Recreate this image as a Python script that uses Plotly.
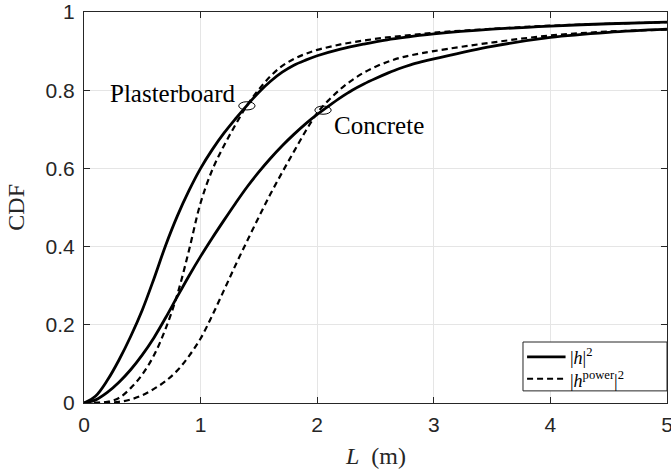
import plotly.graph_objects as go

# ---- data ----
L_plaster_solid = [0, 0.1, 0.2, 0.3, 0.4, 0.5, 0.6, 0.7, 0.8, 0.9, 1.0, 1.1, 1.2, 1.3, 1.4, 1.5, 1.6, 1.7, 1.8, 1.9, 2.0, 2.2, 2.4, 2.6, 2.8, 3.0, 3.5, 4.0, 4.5, 5.0]
cdf_plaster_solid = [0, 0.018, 0.058, 0.11, 0.17, 0.238, 0.318, 0.403, 0.478, 0.543, 0.6, 0.648, 0.69, 0.727, 0.762, 0.795, 0.823, 0.846, 0.864, 0.877, 0.888, 0.905, 0.918, 0.929, 0.937, 0.944, 0.956, 0.964, 0.97, 0.974]

L_plaster_dash = [0, 0.1, 0.2, 0.3, 0.4, 0.5, 0.6, 0.7, 0.8, 0.9, 1.0, 1.1, 1.2, 1.3, 1.4, 1.5, 1.6, 1.7, 1.8, 1.9, 2.0, 2.2, 2.4, 2.6, 2.8, 3.0, 3.5, 4.0, 4.5, 5.0]
cdf_plaster_dash = [0, 0.0005, 0.003, 0.013, 0.038, 0.073, 0.122, 0.19, 0.277, 0.39, 0.512, 0.596, 0.658, 0.712, 0.762, 0.802, 0.836, 0.862, 0.88, 0.893, 0.903, 0.917, 0.927, 0.935, 0.941, 0.947, 0.957, 0.965, 0.97, 0.974]

L_concrete_solid = [0, 0.1, 0.2, 0.3, 0.4, 0.5, 0.6, 0.7, 0.8, 0.9, 1.0, 1.1, 1.2, 1.3, 1.4, 1.5, 1.6, 1.7, 1.8, 1.9, 2.0, 2.1, 2.2, 2.3, 2.4, 2.5, 2.6, 2.7, 2.8, 2.9, 3.0, 3.5, 4.0, 4.5, 5.0]
cdf_concrete_solid = [0, 0.008, 0.027, 0.053, 0.085, 0.123, 0.167, 0.218, 0.272, 0.325, 0.375, 0.422, 0.467, 0.511, 0.553, 0.591, 0.626, 0.658, 0.687, 0.714, 0.738, 0.76, 0.781, 0.8, 0.816, 0.83, 0.843, 0.855, 0.865, 0.873, 0.88, 0.912, 0.935, 0.948, 0.956]

L_concrete_dash = [0, 0.2, 0.3, 0.4, 0.5, 0.6, 0.7, 0.8, 0.9, 1.0, 1.1, 1.2, 1.3, 1.4, 1.5, 1.6, 1.7, 1.8, 1.9, 2.0, 2.1, 2.2, 2.3, 2.4, 2.5, 2.6, 2.7, 2.8, 3.0, 3.5, 4.0, 4.5, 5.0]
cdf_concrete_dash = [0, 0.001, 0.003, 0.009, 0.02, 0.036, 0.056, 0.083, 0.12, 0.165, 0.224, 0.288, 0.353, 0.415, 0.476, 0.535, 0.59, 0.643, 0.695, 0.742, 0.775, 0.803, 0.826, 0.845, 0.86, 0.872, 0.882, 0.889, 0.9, 0.922, 0.94, 0.95, 0.955]

# crossing markers (ellipses) and labels
marker_L = [1.397, 2.05]
marker_cdf = [0.76, 0.749]
label_text = ["Plasterboard", "Concrete"]
legend_text = ["|<i>h</i>|<sup>2</sup>", "|<i>h</i><sup>power</sup>|<sup>2</sup>"]

x_ticks = [0, 1, 2, 3, 4, 5]
y_ticks = [0, 0.2, 0.4, 0.6, 0.8, 1]
y_tick_text = ["0", "0.2", "0.4", "0.6", "0.8", "1"]

SERIF = "Liberation Serif, Times New Roman, serif"
SANS = "Liberation Sans, Arial, Helvetica, sans-serif"
AX = "#262626"

fig = go.Figure()

solid = dict(color="black", width=2.8, shape="spline", smoothing=1.0)
dashed = dict(color="black", width=2.2, dash="6px,4px", shape="spline", smoothing=1.0)

fig.add_trace(go.Scatter(x=L_plaster_solid, y=cdf_plaster_solid, mode="lines", line=solid,
                         name=legend_text[0], showlegend=False))
fig.add_trace(go.Scatter(x=L_plaster_dash, y=cdf_plaster_dash, mode="lines", line=dashed,
                         name=legend_text[1], showlegend=False))
fig.add_trace(go.Scatter(x=L_concrete_solid, y=cdf_concrete_solid, mode="lines", line=solid,
                         showlegend=False))
fig.add_trace(go.Scatter(x=L_concrete_dash, y=cdf_concrete_dash, mode="lines", line=dashed,
                         showlegend=False))

# ellipses around the crossing points
for mx, my in zip(marker_L, marker_cdf):
    fig.add_shape(type="circle", xref="x", yref="y",
                  x0=mx - 0.07, x1=mx + 0.07, y0=my - 0.0105, y1=my + 0.0105,
                  line=dict(color="black", width=1))

fig.add_annotation(x=1.31, y=0.792, xref="x", yref="y", text=label_text[0], showarrow=False,
                   xanchor="right", yanchor="middle", font=dict(family=SERIF, size=25, color="black"))
fig.add_annotation(x=2.126, y=0.71, xref="x", yref="y", text=label_text[1], showarrow=False,
                   xanchor="left", yanchor="middle", font=dict(family=SERIF, size=25, color="black"))

# legend box (MATLAB style, lower right inside the axes)
fig.add_shape(type="rect", xref="paper", yref="paper", x0=0.753, x1=1.0, y0=0.031, y1=0.156,
              fillcolor="white", line=dict(color=AX, width=1), layer="above")
fig.add_shape(type="line", xref="paper", yref="paper", x0=0.760, x1=0.826, y0=0.118, y1=0.118,
              line=dict(color="black", width=2.8), layer="above")
fig.add_shape(type="line", xref="paper", yref="paper", x0=0.760, x1=0.826, y0=0.062, y1=0.062,
              line=dict(color="black", width=2.2, dash="6px,4px"), layer="above")
fig.add_annotation(x=0.831, y=0.119, xref="paper", yref="paper", text=legend_text[0], showarrow=False,
                   xanchor="left", yanchor="middle", font=dict(family=SERIF, size=18, color="black"))
fig.add_annotation(x=0.831, y=0.060, xref="paper", yref="paper", text=legend_text[1], showarrow=False,
                   xanchor="left", yanchor="middle", font=dict(family=SERIF, size=18, color="black"))

# axis titles
fig.add_annotation(x=0.5, y=-0.135, xref="paper", yref="paper", text="<i>L</i>&nbsp; (m)", showarrow=False,
                   xanchor="center", yanchor="middle", font=dict(family=SERIF, size=24, color=AX))
fig.add_annotation(x=-0.118, y=0.5, xref="paper", yref="paper", text="CDF", showarrow=False, textangle=-90,
                   xanchor="center", yanchor="middle", font=dict(family=SERIF, size=24, color=AX))

fig.update_layout(
    width=671, height=472, autosize=False,
    margin=dict(l=84, r=4, t=12, b=69),
    paper_bgcolor="white", plot_bgcolor="white",
    showlegend=False,
    xaxis=dict(range=[0, 5], tickvals=x_ticks, ticktext=[str(v) for v in x_ticks],
               showgrid=True, gridcolor="#e5e5e5", gridwidth=1, zeroline=False,
               showline=True, linecolor=AX, linewidth=1, mirror="ticks",
               ticks="inside", ticklen=6, tickcolor=AX, ticklabelstandoff=3,
               ticklabeloverflow="allow", automargin=False,
               tickfont=dict(family=SANS, size=21, color=AX)),
    yaxis=dict(range=[0, 1], tickvals=y_ticks, ticktext=y_tick_text,
               showgrid=True, gridcolor="#e5e5e5", gridwidth=1, zeroline=False,
               showline=True, linecolor=AX, linewidth=1, mirror="ticks",
               ticks="inside", ticklen=6, tickcolor=AX, ticklabelstandoff=4,
               ticklabeloverflow="allow", automargin=False,
               tickfont=dict(family=SANS, size=21, color=AX)),
)

fig.write_html("out.html", config={"displayModeBar": False},
               post_script="document.body.style.margin='0';")
